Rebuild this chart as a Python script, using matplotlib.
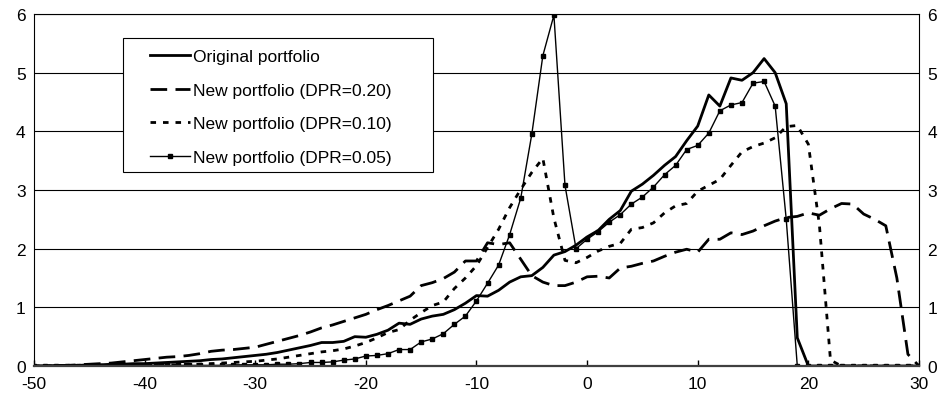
import numpy as np
import matplotlib.pyplot as plt
from matplotlib.patches import Rectangle

plt.rcParams['font.family'] = ['Liberation Sans', 'DejaVu Sans']
plt.rcParams['font.size'] = 12.5
plt.rcParams['axes.unicode_minus'] = False

# x grid: -50 .. 30, step 1
x = np.arange(-50, 31)

original = [0.00, 0.00, 0.01, 0.01, 0.01, 0.02, 0.02, 0.03, 0.03, 0.04,
            0.04, 0.05, 0.06, 0.07, 0.08, 0.09, 0.11, 0.12, 0.14, 0.16,
            0.18, 0.20, 0.23, 0.27, 0.31, 0.35, 0.40, 0.40, 0.42, 0.50,
            0.49, 0.54, 0.61, 0.73, 0.71, 0.80, 0.85, 0.88, 0.96, 1.07,
            1.20, 1.19, 1.29, 1.43, 1.52, 1.54, 1.68, 1.89, 1.95, 2.06,
            2.20, 2.31, 2.50, 2.65, 2.98, 3.10, 3.25, 3.42, 3.57, 3.84,
            4.09, 4.62, 4.43, 4.91, 4.87, 5.00, 5.24, 5.00, 4.47, 0.48,
            0.00, 0.00, 0.00, 0.00, 0.00, 0.00, 0.00, 0.00, 0.00, 0.00,
            0.00]

dpr20 = [0.00, 0.00, 0.01, 0.01, 0.02, 0.03, 0.04, 0.05, 0.07, 0.09,
         0.11, 0.13, 0.15, 0.16, 0.18, 0.21, 0.25, 0.27, 0.28, 0.30,
         0.32, 0.37, 0.42, 0.47, 0.52, 0.58, 0.65, 0.70, 0.76, 0.82,
         0.88, 0.96, 1.03, 1.11, 1.19, 1.37, 1.42, 1.49, 1.60, 1.79,
         1.79, 2.10, 2.07, 2.10, 1.82, 1.54, 1.43, 1.37, 1.37, 1.43,
         1.52, 1.53, 1.50, 1.67, 1.70, 1.75, 1.79, 1.87, 1.94, 1.99,
         1.94, 2.16, 2.16, 2.27, 2.24, 2.30, 2.39, 2.47, 2.53, 2.55,
         2.61, 2.57, 2.68, 2.77, 2.76, 2.59, 2.50, 2.39, 1.50, 0.20,
         0.00]

dpr10 = [0.00, 0.00, 0.00, 0.00, 0.00, 0.01, 0.01, 0.01, 0.01, 0.01,
         0.01, 0.02, 0.02, 0.02, 0.03, 0.03, 0.04, 0.05, 0.06, 0.07,
         0.08, 0.10, 0.12, 0.15, 0.18, 0.21, 0.24, 0.26, 0.29, 0.34,
         0.40, 0.48, 0.57, 0.62, 0.78, 0.91, 1.03, 1.09, 1.32, 1.50,
         1.71, 2.02, 2.33, 2.70, 3.01, 3.30, 3.54, 2.52, 1.80, 1.76,
         1.85, 1.96, 2.04, 2.09, 2.33, 2.36, 2.44, 2.61, 2.73, 2.77,
         2.98, 3.08, 3.18, 3.42, 3.65, 3.74, 3.80, 3.89, 4.08, 4.10,
         3.78, 2.40, 0.10, 0.00, 0.00, 0.00, 0.00, 0.00, 0.00, 0.00,
         0.00]

dpr05 = [0.00, 0.00, 0.00, 0.00, 0.00, 0.00, 0.00, 0.00, 0.00, 0.00,
         0.00, 0.00, 0.01, 0.01, 0.01, 0.01, 0.01, 0.01, 0.02, 0.02,
         0.02, 0.02, 0.03, 0.03, 0.04, 0.06, 0.06, 0.07, 0.10, 0.12,
         0.17, 0.18, 0.21, 0.28, 0.28, 0.41, 0.46, 0.55, 0.71, 0.85,
         1.11, 1.41, 1.72, 2.24, 2.86, 3.95, 5.29, 5.98, 3.08, 2.00,
         2.16, 2.29, 2.45, 2.58, 2.76, 2.88, 3.05, 3.26, 3.42, 3.69,
         3.76, 3.97, 4.35, 4.45, 4.49, 4.82, 4.85, 4.43, 2.50, 0.00,
         0.00, 0.00, 0.00, 0.00, 0.00, 0.00, 0.00, 0.00, 0.00, 0.00,
         0.00]

labels = ['Original portfolio', 'New portfolio (DPR=0.20)',
          'New portfolio (DPR=0.10)', 'New portfolio (DPR=0.05)']

fig = plt.figure(figsize=(9.41, 4.02), dpi=100)
ax = fig.add_axes([0.0361, 0.0871, 0.9405, 0.8756])

ax.plot(x, original, color='black', lw=2.0, label=labels[0])
ax.plot(x, dpr20, color='black', lw=2.0, linestyle=(0, (6, 3)), label=labels[1])
ax.plot(x, dpr10, color='black', lw=2.0, linestyle=(0, (2, 2.5)), label=labels[2])
ax.plot(x, dpr05, color='black', lw=1.0, marker='s', markersize=3.5,
        label=labels[3])

ax.set_xlim(-50, 30)
ax.set_ylim(0, 6)
ax.set_xticks(np.arange(-50, 31, 10))
ax.set_yticks(np.arange(0, 7, 1))
ax.yaxis.grid(True, color='black', lw=0.8)
ax.set_axisbelow(True)

ax.tick_params(axis='x', direction='in', length=4, width=1, pad=7, top=False)
ax.tick_params(axis='y', length=0, pad=6, labelright=True)
for s in ['top', 'left', 'right']:
    ax.spines[s].set_linewidth(0.8)
ax.spines['bottom'].set_linewidth(1.6)
ax.spines['bottom'].set_color('#404040')

# legend box drawn separately so the padding matches
box = Rectangle((0.1006, 0.551), 0.3503, 0.381, transform=ax.transAxes,
                facecolor='white', edgecolor='black', lw=0.8, zorder=4)
ax.add_patch(box)
leg = ax.legend(loc='upper left', bbox_to_anchor=(0.131, 0.901), frameon=False,
                handlelength=2.3, handletextpad=0.2, labelspacing=1.07,
                borderpad=0, borderaxespad=0)
leg.set_zorder(5)

fig.savefig('out.png', dpi=100)
